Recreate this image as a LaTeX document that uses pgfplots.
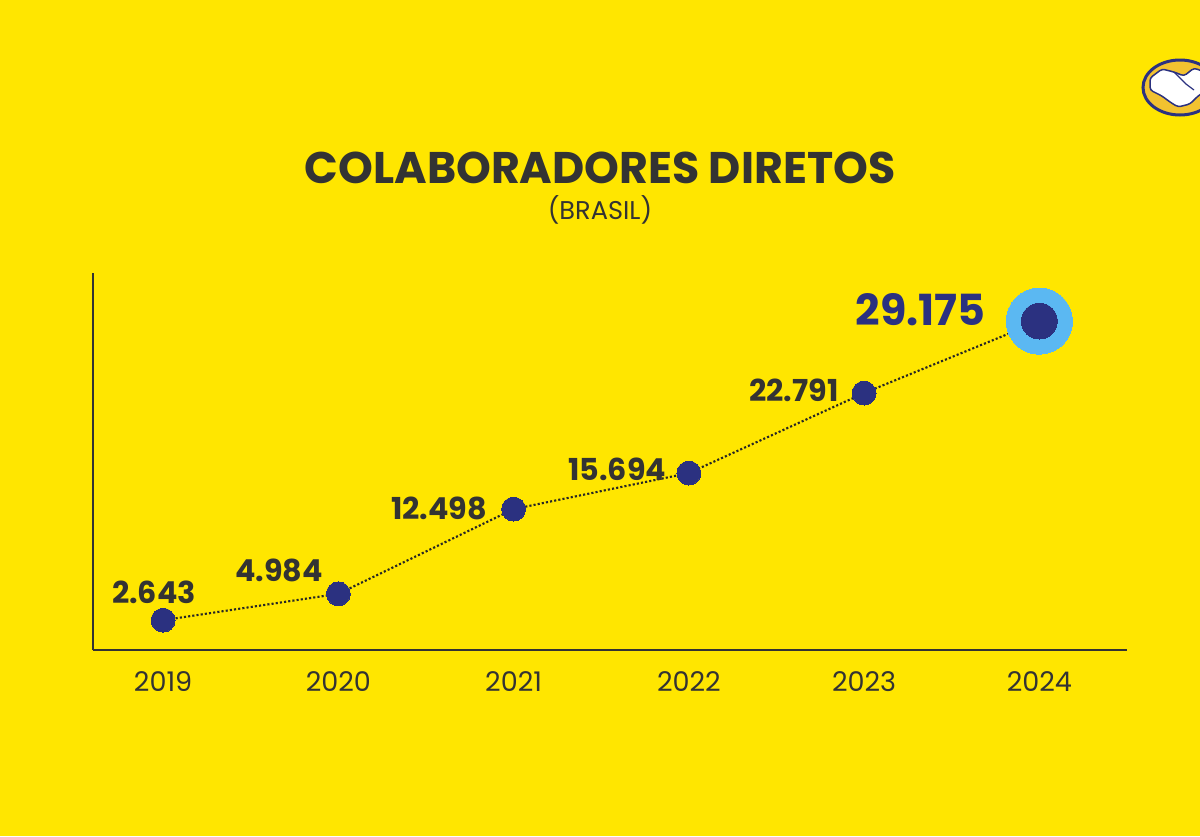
\documentclass[border=0pt]{standalone}
\usepackage{pgfplots}
\pgfplotsset{compat=1.18}
\usepackage{fontspec}
\setmainfont{Poppins}

\definecolor{mlyellow}{HTML}{FFE600}
\definecolor{txtdark}{HTML}{333333}
\definecolor{navy}{HTML}{2B3180}
\definecolor{lightblue}{HTML}{5BB8F2}
\definecolor{logogold}{HTML}{F2C230}

\tikzset{
  lbl/.style={inner sep=0pt, text=txtdark, font=\bfseries\fontsize{8.6}{10}\selectfont},
}

\begin{document}
\begin{tikzpicture}[x=1mm,y=1mm]
% 1 px of the reference = 0.1 mm
\useasboundingbox (0,0) rectangle (120,83.6);
\fill[mlyellow] (0,0) rectangle (120,83.6);

% titles
\node[text=txtdark, font=\bfseries\fontsize{12.6}{14}\selectfont] at (60,66.8) {COLABORADORES DIRETOS};
\node[text=txtdark, font=\fontsize{7.3}{9}\selectfont] at (60,62.6) {(BRASIL)};

% logo, cut by the right edge
\begin{scope}
  \clip (0,0) rectangle (120,83.6);
  \draw[navy, line width=0.3mm, fill=logogold] (118,74.85) ellipse (3.7 and 2.75);
  \draw[navy, line width=0.15mm, fill=white, rounded corners=0.3mm]
    (115.0,75.8) -- (116.2,76.7) -- (117.4,76.4) -- (118.4,76.0) -- (119.4,76.8) -- (121,76.2)
    -- (121,74.8) -- (119.8,74.0) -- (119.0,73.2) -- (117.8,72.9) -- (117.0,73.4)
    -- (116.2,74.0) -- (115.0,74.6) -- cycle;
  \draw[navy, line width=0.12mm] (117.4,76.4) -- (118.6,75.2) -- (119.4,74.6);
\end{scope}

\begin{axis}[
  at={(9.3mm,18.6mm)}, anchor=south west,
  scale only axis, width=103.4mm, height=37.7mm,
  xmin=-0.4, xmax=5.5, ymin=0, ymax=33440,
  axis lines=left,
  axis line style={-, line width=0.85pt, draw=txtdark},
  ytick=\empty,
  xtick={0,1,2,3,4,5},
  xticklabels={2019,2020,2021,2022,2023,2024},
  major tick length=0pt,
  xticklabel style={anchor=base, inner sep=0pt, yshift=-4.1mm,
    text=txtdark, font=\fontsize{7.7}{9}\selectfont},
  clip=false,
]
\addplot[draw=black!85, line width=0.6pt, dash pattern=on 0.6pt off 0.6pt] coordinates {
  (0,2643) (1,4984) (2,12498) (3,15694) (4,22791) (5,29175)
};
\addplot[navy, only marks, mark=*, mark size=3.4pt, mark options={draw=navy, fill=navy, line width=0pt}] coordinates {
  (0,2643) (1,4984) (2,12498) (3,15694) (4,22791)
};
\addplot[lightblue, only marks, mark=*, mark size=9.4pt, mark options={draw=lightblue, fill=lightblue, line width=0pt}] coordinates {(5,29175)};
\addplot[navy, only marks, mark=*, mark size=5.1pt, mark options={draw=navy, fill=navy, line width=0pt}] coordinates {(5,29175)};

\node[lbl, anchor=south] at (axis cs:0,2643) [xshift=-0.9mm, yshift=1.6mm] {2.643};
\node[lbl, anchor=south east] at (axis cs:1,4984) [xshift=-1.5mm, yshift=1.1mm] {4.984};
\node[lbl, anchor=east] at (axis cs:2,12498) [xshift=-2.6mm, yshift=0.1mm] {12.498};
\node[lbl, anchor=east] at (axis cs:3,15694) [xshift=-2.2mm, yshift=0.4mm] {15.694};
\node[lbl, anchor=east] at (axis cs:4,22791) [xshift=-2.5mm, yshift=0.3mm] {22.791};
\node[lbl, anchor=east, text=navy, font=\bfseries\fontsize{12.2}{14}\selectfont]
  at (axis cs:5,29175) [xshift=-5.3mm, yshift=1.1mm] {29.175};
\end{axis}
\end{tikzpicture}
\end{document}
